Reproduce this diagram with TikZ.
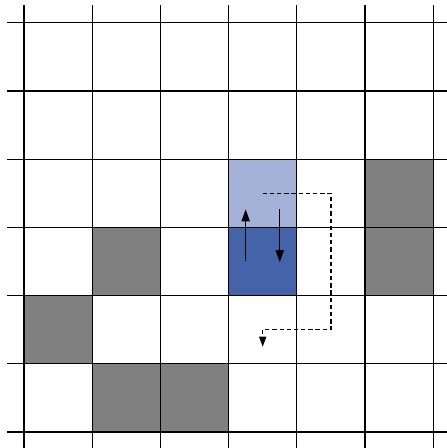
\documentclass[tikz,border=0pt]{standalone}
\usepackage{xcolor}
\usepackage{tikz}
\usetikzlibrary{arrows.meta}

\definecolor{cellgray}{HTML}{808080}
\definecolor{lightblue}{HTML}{A3B2D6}
\definecolor{darkblue}{HTML}{4563A8}

\begin{document}
\begin{tikzpicture}[
    gridline/.style={line width=0.55pt, black},
    wall/.style={fill=cellgray},
    move/.style={-{Triangle[length=5pt, width=3.4pt]}, line width=0.6pt},
    detour/.style={-{Triangle[length=4.2pt, width=3pt]}, line width=0.5pt,
                   dash pattern=on 1.8pt off 1.2pt}
]
\useasboundingbox (-0.352,-0.235) rectangle (6.19,6.334);

% occupied cells
\foreach \cx/\cy in {5/3, 5/2, 1/2, 0/1, 1/0, 2/0}
  \fill[wall] (\cx,\cy) rectangle ++(1,1);
\fill[lightblue] (3,3) rectangle ++(1,1);
\fill[darkblue]  (3,2) rectangle ++(1,1);

% grid
\foreach \i in {0,...,6} {
  \draw[gridline] (\i,-0.3) -- (\i,6.26);
  \draw[gridline] (-0.25,\i) -- (6.3,\i);
}

% moves
\coordinate (upA)  at (3.25,2.5);
\coordinate (upB)  at (3.25,3.265);
\coordinate (dnA)  at (3.75,3.265);
\coordinate (dnB)  at (3.75,2.49);
\draw[move] (upA) -- (upB);
\draw[move] (dnA) -- (dnB);

% detour
\coordinate (detA) at (3.5,3.5);
\coordinate (detB) at (4.5,1.5);
\coordinate (detC) at (3.5,1.25);
\draw[detour] (detA) -| (detB) -- (3.5,1.5) -- (detC);
\end{tikzpicture}
\end{document}
